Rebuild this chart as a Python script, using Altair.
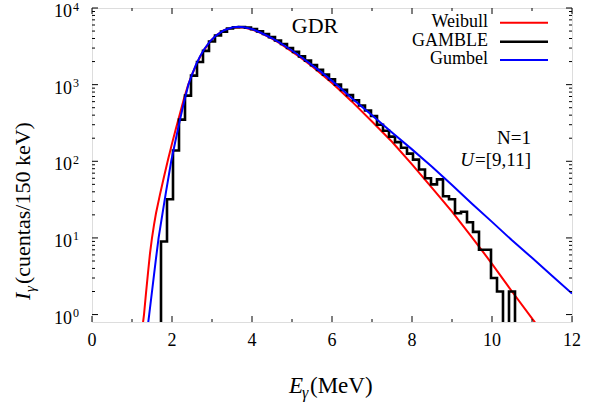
import altair as alt
import pandas as pd

# GAMBLE spectrum: bin centres (MeV) and counts per 150 keV bin
hist_center = [1.65, 1.80, 1.95, 2.10, 2.25, 2.40, 2.55, 2.70, 2.85, 3.00,
               3.15, 3.30, 3.45, 3.60, 3.75, 3.90, 4.05, 4.20, 4.35, 4.50,
               4.65, 4.80, 4.95, 5.10, 5.25, 5.40, 5.55, 5.70, 5.85, 6.00,
               6.15, 6.30, 6.45, 6.60, 6.75, 6.90, 7.05, 7.20, 7.35, 7.50,
               7.65, 7.80, 7.95, 8.10, 8.25, 8.40, 8.55, 8.70, 8.85, 9.00,
               9.15, 9.30, 9.45, 9.60, 9.75, 9.90, 10.05, 10.20, 10.35, 10.50,
               10.65]
hist_count = [0, 9, 32, 138, 350, 720, 1310, 1970, 2760, 3660,
              4370, 4920, 5400, 5620, 5650, 5550, 5300, 4950, 4580, 4170,
              3770, 3390, 3010, 2680, 2340, 2060, 1800, 1560, 1350, 1170,
              1000, 855, 730, 625, 535, 460, 390, 300, 250, 210,
              178, 150, 126, 105, 78, 60, 50, 58, 35, 32,
              21, 22, 16, 12, 7, 7, 3, 2, 0, 2,
              0]
bin_width = 0.15

# Weibull fit
weibull_e = [1.265, 1.30, 1.35, 1.40, 1.45, 1.50, 1.55, 1.60, 1.70, 1.80,
             1.90, 2.00, 2.10, 2.20, 2.30, 2.40, 2.50, 2.60, 2.70, 2.80,
             2.95, 3.10, 3.30, 3.50, 3.65, 3.80, 4.00, 4.21, 4.50, 4.71,
             5.00, 5.21, 5.50, 5.71, 6.00, 6.21, 6.50, 7.00, 7.50, 8.00,
             8.50, 9.00, 9.50, 10.00, 10.50, 11.00, 11.15]
weibull_i = [0.71, 1.0, 1.9, 3.5, 6.3, 10, 14.8, 21, 37, 63,
             105, 170, 270, 420, 660, 980, 1350, 1780, 2290, 2820,
             3630, 4370, 5130, 5500, 5620, 5560, 5250, 4730, 3980, 3430,
             2690, 2260, 1740, 1410, 1050, 830, 600, 330, 180, 91,
             45, 22, 10.2, 4.6, 2.0, 0.89, 0.70]

# Gumbel fit
gumbel_e = [1.395, 1.43, 1.50, 1.55, 1.60, 1.665, 1.75, 1.85, 1.98, 2.10,
            2.20, 2.30, 2.41, 2.50, 2.60, 2.70, 2.80, 2.95, 3.10, 3.30,
            3.50, 3.65, 3.80, 4.00, 4.21, 4.50, 4.71, 5.00, 5.21, 5.50,
            5.71, 6.00, 6.21, 6.46, 7.00, 7.50, 8.00, 8.50, 9.00, 9.50,
            10.00, 10.50, 11.00, 11.50, 12.00]
gumbel_i = [0.71, 1.0, 2.0, 3.3, 5.4, 10, 19, 40, 100, 200,
            350, 590, 1000, 1350, 1820, 2340, 2880, 3670, 4370, 5130,
            5560, 5690, 5620, 5310, 4790, 4030, 3490, 2790, 2330, 1800,
            1490, 1120, 904, 692, 398, 237, 143, 85, 49, 28,
            16.2, 9.3, 5.5, 3.2, 1.88]

x_major = [0, 2, 4, 6, 8, 10, 12]
x_labels = ["0", "2", "4", "6", "8", "10", "12"]
x_minor = [1, 3, 5, 7, 9, 11]
y_major = [1, 10, 100, 1000, 10000]
y_exponent = ["0", "1", "2", "3", "4"]
y_minor = [2, 3, 4, 5, 6, 7, 8, 9,
           20, 30, 40, 50, 60, 70, 80, 90,
           200, 300, 400, 500, 600, 700, 800, 900,
           2000, 3000, 4000, 5000, 6000, 7000, 8000, 9000]

W, H = 480, 314
FONT = "Liberation Serif"
RED, BLACK, BLUE = "#ff0000", "#000000", "#0000ff"

xs = alt.Scale(domain=[0, 12], nice=False, zero=False)
ys = alt.Scale(type="log", domain=[0.8, 10000], nice=False)

# histogram drawn as a step line through the left bin edges
edges = [round(c - bin_width / 2, 3) for c in hist_center] + [round(hist_center[-1] + bin_width / 2, 3)]
counts = hist_count + [0]
hist_df = pd.DataFrame({"E": edges, "n": counts})

weib_df = pd.DataFrame({"E": weibull_e, "I": weibull_i})
gumb_df = pd.DataFrame({"E": gumbel_e, "I": gumbel_i})

x_none = alt.X("E:Q", scale=xs, axis=None)

weib = alt.Chart(weib_df).mark_line(color=RED, strokeWidth=2, clip=True).encode(
    x=x_none, y=alt.Y("I:Q", scale=ys, axis=None))
hist = alt.Chart(hist_df).transform_calculate(
    shown="max(datum.n, 0.3)"
).mark_line(color=BLACK, strokeWidth=2.6, interpolate="step-after", clip=True).encode(
    x=x_none, y=alt.Y("shown:Q", scale=ys, axis=None))
gumb = alt.Chart(gumb_df).mark_line(color=BLUE, strokeWidth=2, clip=True).encode(
    x=x_none, y=alt.Y("I:Q", scale=ys, axis=None))


def xticks(vals, length):
    df = pd.DataFrame({"t": vals})
    b = alt.Chart(df).mark_rule(color="black", strokeWidth=1)
    bottom = b.encode(x=alt.X("t:Q", scale=xs, axis=None), y=alt.value(H), y2=alt.value(H - length))
    top = b.encode(x=alt.X("t:Q", scale=xs, axis=None), y=alt.value(0), y2=alt.value(length))
    return [bottom, top]


def yticks(vals, length):
    df = pd.DataFrame({"t": vals})
    b = alt.Chart(df).mark_rule(color="black", strokeWidth=1)
    left = b.encode(y=alt.Y("t:Q", scale=ys, axis=None), x=alt.value(0), x2=alt.value(length))
    right = b.encode(y=alt.Y("t:Q", scale=ys, axis=None), x=alt.value(W), x2=alt.value(W - length))
    return [left, right]


tick_layers = xticks(x_major, 6) + xticks(x_minor, 3) + yticks(y_major, 6) + yticks(y_minor, 3)

# x tick labels
xlab_df = pd.DataFrame({"v": x_major, "s": x_labels})
xlab = alt.Chart(xlab_df).mark_text(font=FONT, fontSize=18, align="center", baseline="alphabetic",
                                     color="black").encode(
    x=alt.X("v:Q", scale=xs, axis=None), y=alt.value(H + 24), text="s:N")

# y tick labels as 10 with a raised exponent
ylab_df = pd.DataFrame({"v": y_major, "base": ["10"] * len(y_major), "exp": y_exponent})
ylab_base = alt.Chart(ylab_df).mark_text(font=FONT, fontSize=18, align="right", baseline="middle",
                                          dy=4, color="black").encode(
    y=alt.Y("v:Q", scale=ys, axis=None), x=alt.value(-20), text="base:N")
ylab_exp = alt.Chart(ylab_df).mark_text(font=FONT, fontSize=12, align="left", baseline="middle",
                                         dy=-1.5, color="black").encode(
    y=alt.Y("v:Q", scale=ys, axis=None), x=alt.value(-19), text="exp:N")


def label(txt, x, y, size, align="left", style="normal", angle=0):
    df = pd.DataFrame({"s": [txt]})
    return alt.Chart(df).mark_text(font=FONT, fontSize=size, align=align, baseline="alphabetic",
                                   fontStyle=style, angle=angle, color="black").encode(
        x=alt.value(x), y=alt.value(y), text="s:N")


def sample(color, y, width):
    df = pd.DataFrame({"s": [0]})
    return alt.Chart(df).mark_rule(color=color, strokeWidth=width).encode(
        x=alt.value(408), x2=alt.value(456), y=alt.value(y))


legend = [
    label("Weibull", 396, 19, 18, align="right"), sample(RED, 14.7, 2),
    label("GAMBLE", 396, 37.7, 18, align="right"), sample(BLACK, 33.7, 2.6),
    label("Gumbel", 396, 56.4, 18, align="right"), sample(BLUE, 52, 2),
]

notes = [
    label("GDR", 223, 24.7, 22, align="center"),
    label("N=1", 439, 136, 19, align="right"),
    label("=[9,11]", 439, 158, 19, align="right"),
    label("U", 382, 158, 19, align="right", style="italic"),
]

titles = [
    label("E", 197, 384.7, 23, style="italic"),
    label("γ", 210, 389.7, 16, style="italic"),
    label("(MeV)", 218, 384.7, 23),
    label("I", -62, 292, 22, style="italic", angle=270),
    label("γ", -57, 284, 15, style="italic", angle=270),
    label("(cuentas/150 keV)", -62, 276, 22, angle=270),
]

chart = alt.layer(
    weib, hist, gumb, *tick_layers, xlab, ylab_base, ylab_exp, *legend, *notes, *titles
).properties(
    width=W, height=H,
    autosize=alt.AutoSizeParams(type="none"),
    padding={"left": 92, "top": 8, "right": 25, "bottom": 82},
).configure_view(
    stroke="black", strokeWidth=1.5
).configure(
    background="white"
)

chart.save("out.html", embed_options={"renderer": "svg", "actions": False})
